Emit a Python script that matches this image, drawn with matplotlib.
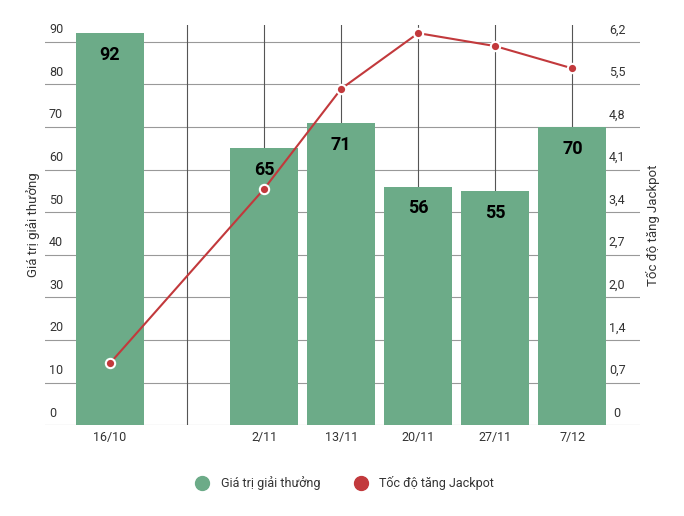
import numpy as np
import matplotlib
matplotlib.use("Agg")
import matplotlib.pyplot as plt
from matplotlib.lines import Line2D

categories = ["16/10", "", "2/11", "13/11", "20/11", "27/11", "7/12"]
prize = [92, None, 65, 71, 56, 55, 70]
speed = [1.0, None, 3.82, 5.44, 6.34, 6.13, 5.77]
left_ticks = [0, 10, 20, 30, 40, 50, 60, 70, 80, 90]
right_labels = ["0", "0,7", "1,4", "2,0", "2,7", "3,4", "4,1", "4,8", "5,5", "6,2"]

bar_color = "#6cab88"
line_color = "#c2393c"
text_color = "#333333"
grid_color = "#999999"

plt.rcParams["font.family"] = ["Roboto", "DejaVu Sans"]
fig = plt.figure(figsize=(6.84, 5.16), dpi=100)
ax = fig.add_axes([0.066, 0.176, 0.87, 0.776])
ax2 = ax.twinx()

x = np.arange(len(categories))
ymax = 94
ax.set_xlim(-0.84, 6.88)
ax.set_ylim(0, ymax)
ax2.set_ylim(0, ymax * 6.2 / 90)

for t in left_ticks:
    ax.axhline(t, color=grid_color, lw=0.8, zorder=0)
for xi in x[1:]:
    ax.axvline(xi, color="#555555", lw=0.8, zorder=0)

for xi, v in zip(x, prize):
    if v is None:
        continue
    ax.bar(xi, v, width=0.88, color=bar_color, zorder=2)
    ax.text(xi, v - 3, str(v), ha="center", va="top", fontsize=13,
            fontweight="bold", color="black", zorder=4)

px = [xi for xi, s in zip(x, speed) if s is not None]
py = [s for s in speed if s is not None]
ax2.plot(px, py, color=line_color, lw=1.5, zorder=3)
ax2.scatter(px, py, s=45, facecolor=line_color, edgecolor="white", lw=1.5, zorder=5)

for t, lab in zip(left_ticks, right_labels):
    ax.text(-0.79, t + 1.3, str(t), ha="left", va="bottom", fontsize=9, color=text_color)
    ax.text(6.58, t + 1.3, lab, ha="center", va="bottom", fontsize=9, color=text_color)

for a in (ax, ax2):
    a.set_yticks([])
    for s in a.spines.values():
        s.set_visible(False)
ax.set_xticks(x)
ax.set_xticklabels(categories, fontsize=9, color=text_color)
ax.tick_params(axis="x", length=0, pad=4)

ax.set_ylabel("Giá trị giải thưởng", fontsize=9.5, color=text_color, labelpad=4)
ax2.set_ylabel("Tốc độ tăng Jackpot", fontsize=9.5, color=text_color, labelpad=4)
ax2.yaxis.set_label_position("right")

handles = [
    Line2D([], [], marker="o", ls="", markersize=10, color=bar_color),
    Line2D([], [], marker="o", ls="", markersize=10, color=line_color),
]
fig.legend(handles, ["Giá trị giải thưởng", "Tốc độ tăng Jackpot"],
           loc="center", bbox_to_anchor=(0.5, 0.063), ncol=2, frameon=False,
           fontsize=9, handletextpad=0.5, columnspacing=2.2, labelcolor=text_color)

fig.savefig("out.png", dpi=100, facecolor="white")
